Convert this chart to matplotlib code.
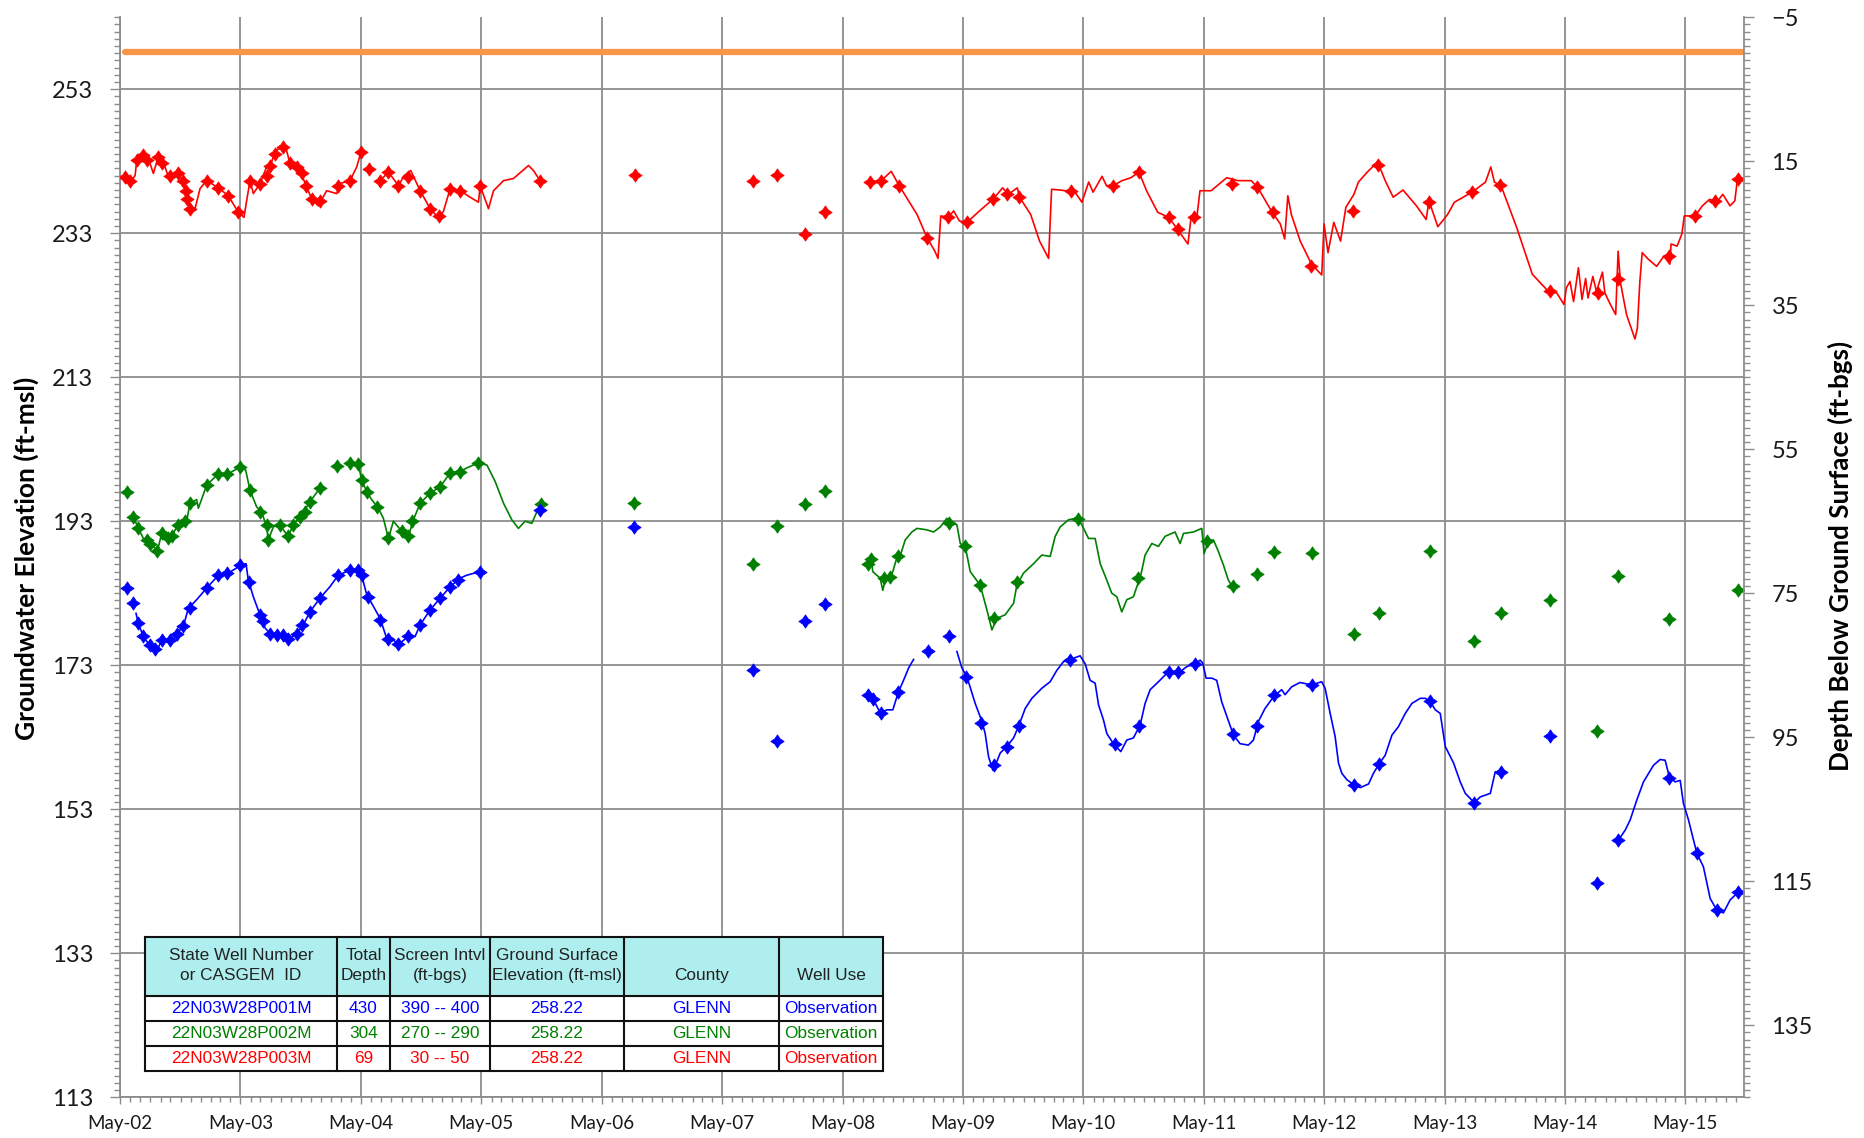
import numpy as np
import matplotlib
matplotlib.use('Agg')
import matplotlib.pyplot as plt
import matplotlib.dates as mdates
from matplotlib.ticker import MultipleLocator, FixedLocator
from matplotlib.path import Path
from matplotlib.patches import Rectangle
from datetime import datetime

plt.rcParams['font.family'] = ['Lato', 'DejaVu Sans']

# ---------------- data (decimal years, elevation ft-msl) ----------------
NA = np.nan
ground_surface_elev = 258.22
ground_surface_years = [2002.37, 2015.80]

# Well 22N03W28P003M (red) - continuous record, NaN = gap
red_line_years = [
    2002.371, 2002.426, 2002.454, 2002.468, 2002.523, 2002.564, 2002.606, 2002.647, 2002.689, 2002.731,
    2002.800, 2002.841, 2002.869, 2002.888, 2002.924, 2002.952, 2002.994, 2003.049, 2003.146, 2003.229,
    2003.312, 2003.359, 2003.381, 2003.409, 2003.437, 2003.492, 2003.547, 2003.589, 2003.616, 2003.680,
    2003.713, 2003.741, 2003.824, 2003.880, 2003.921, 2003.976, 2004.046, 2004.129, 2004.156, 2004.239,
    2004.295, 2004.331, 2004.410,
    2004.489, 2004.558, 2004.641, 2004.688, 2004.743, 2004.821, 2004.904, 2004.981, 2005.015, 2005.070,
    2005.153, 2005.236, 2005.305, 2005.319, 2005.388, 2005.430, 2005.513, 2005.596, 2005.721, 2005.762,
    2005.817, 2007.000,
    2008.540, 2008.651, 2008.733, 2008.799, 2008.947, 2009.029, 2009.095, 2009.121, 2009.144, 2009.206,
    2009.251, 2009.299, 2009.362, 2009.466, 2009.577, 2009.658, 2009.706, 2009.780, 2009.799, 2009.891,
    2009.965, 2010.040, 2010.065, 2010.132, 2010.225, 2010.243, 2010.317, 2010.373, 2010.410, 2010.484,
    2010.521, 2010.576, 2010.650, 2010.724, 2010.791, 2010.854, 2010.947, 2011.039, 2011.113, 2011.198,
    2011.224, 2011.272, 2011.298, 2011.391, 2011.520, 2011.613, 2011.724, 2011.780, 2011.891, 2011.965,
    2012.002, 2012.028, 2012.057, 2012.131, 2012.224, 2012.309, 2012.328, 2012.361, 2012.409, 2012.465,
    2012.509, 2012.576, 2012.613, 2012.687, 2012.772, 2012.835, 2012.901, 2012.983, 2013.094, 2013.175,
    2013.198, 2013.272, 2013.353, 2013.409, 2013.557, 2013.668, 2013.712, 2013.742, 2013.797, 2013.927,
    2014.057, 2014.186, 2014.260, 2014.320, 2014.340, 2014.370, 2014.400, 2014.440, 2014.470, 2014.500,
    2014.520, 2014.560, 2014.590, 2014.640, 2014.660, 2014.700, 2014.750, 2014.770, 2014.790, 2014.840,
    2014.910, 2014.930, 2014.950, 2014.970, 2015.020, 2015.090, 2015.150, 2015.200, 2015.210, 2015.260,
    2015.300, 2015.320, 2015.410, 2015.470, 2015.530, 2015.590, 2015.640, 2015.700, 2015.740, 2015.760,
    2015.780]
red_line_elev = [
    240.8, 240.3, 241.0, 243.1, 243.8, 243.4, 241.3, 243.6, 242.9, 240.8,
    241.3, 240.6, 239.2, 237.8, 236.1, 236.4, 239.2, 240.3, 239.3, 238.2,
    235.9, 235.2, 237.5, 240.3, 238.5, 239.9, 242.2, 242.9, 244.3, 245.2,
    244.5, 242.7, 241.7, 239.4, 237.8, 236.8, 238.9, 238.5, 239.9, 240.3,
    242.2, 244.3, NA,
    240.3, 241.5, 239.6, 241.0, 241.7, 238.9, 236.4, 235.0, 236.1, 239.2,
    238.9, 238.0, 237.3, 239.6, 236.4, 238.9, 240.3, 240.6, 242.4, 241.7,
    240.3, NA,
    240.1, 240.3, 241.6, 239.6, 235.6, 232.4, 230.5, 229.5, 235.4, 235.2,
    236.1, 234.7, 234.5, 236.1, 237.7, 239.3, 238.4, 239.3, 238.0, 235.6,
    231.9, 229.5, 239.1, 239.0, 238.8, 239.1, 237.3, 240.1, 238.7, 240.9,
    239.6, 239.6, 240.3, 240.7, 241.5, 238.9, 235.9, 235.2, 233.5, 231.5,
    235.2, 235.2, 238.9, 238.9, 240.7, 240.3, 240.3, 239.3, 236.1, 234.3,
    232.2, 238.2, 235.6, 231.9, 228.7, 227.2, 234.3, 230.3, 234.5, 231.9,
    236.6, 238.4, 240.1, 241.5, 242.9, 240.3, 238.0, 239.0, 236.8, 234.9,
    237.5, 233.9, 235.6, 237.3, 238.7, 240.1, 242.2, 240.1, 239.6, 233.8,
    227.3, 225.0, 224.7, 223.1, 225.4, 226.3, 223.5, 228.2, 223.8, 226.7,
    224.0, 227.0, 224.9, 227.6, 224.7, 223.3, 221.7, 230.5, 226.1, 221.7,
    218.3, 219.8, 226.1, 230.3, 229.4, 228.4, 229.8, 228.7, 231.5, 231.2,
    232.9, 235.4, 235.4, 236.8, 237.7, 237.3, 238.4, 236.8, 237.5, 240.3,
    240.5]
red_marker_years = [
    2002.371, 2002.412, 2002.468, 2002.523, 2002.551, 2002.647, 2002.675, 2002.744, 2002.814, 2002.855,
    2002.877, 2002.888, 2002.911, 2003.049, 2003.146, 2003.229, 2003.312, 2003.409, 2003.492, 2003.547,
    2003.575, 2003.616, 2003.680, 2003.741, 2003.796, 2003.838, 2003.874, 2003.921, 2003.990, 2004.142,
    2004.239, 2004.331, 2004.400, 2004.489, 2004.558, 2004.641, 2004.724, 2004.821, 2004.904, 2004.981,
    2005.070, 2005.153, 2005.314, 2005.817,
    2006.607, 2007.585, 2007.782, 2008.020, 2008.187,
    2008.559, 2008.651, 2008.799, 2009.029, 2009.206, 2009.362, 2009.577, 2009.695, 2009.791, 2010.225,
    2010.576, 2010.791, 2011.039, 2011.113, 2011.250, 2011.568, 2011.768, 2011.909, 2012.224, 2012.565,
    2012.772, 2013.198, 2013.557, 2013.786, 2014.206, 2014.607, 2014.773, 2015.197, 2015.410, 2015.576,
    2015.770]
red_marker_elev = [
    240.8, 240.3, 243.1, 243.8, 243.1, 243.6, 242.7, 241.0, 241.3, 240.3,
    238.9, 237.8, 236.4, 240.3, 239.3, 238.2, 235.9, 240.3, 239.9, 241.0,
    242.4, 244.0, 245.0, 242.7, 242.2, 241.3, 239.6, 237.8, 237.5, 239.6,
    240.3, 244.3, 241.9, 240.3, 241.5, 239.6, 240.8, 238.9, 236.4, 235.4,
    239.2, 238.8, 239.6, 240.3,
    241.1, 240.3, 241.1, 232.9, 236.0,
    240.1, 240.3, 239.6, 232.4, 235.2, 234.5, 237.7, 238.4, 238.0, 238.9,
    239.6, 241.5, 235.2, 233.6, 235.2, 239.8, 239.4, 235.9, 228.5, 236.1,
    242.5, 237.4, 238.7, 239.7, 225.0, 224.7, 226.6, 229.8, 235.4, 237.5,
    240.5]

# Well 22N03W28P002M (green)
green_line_years = [
    2002.440, 2002.481, 2002.523, 2002.564, 2002.606, 2002.639, 2002.675, 2002.717, 2002.758, 2002.800,
    2002.841, 2002.883, 2002.910, 2002.966, 2002.980, 2003.049, 2003.146, 2003.229, 2003.326, 2003.373,
    2003.409, 2003.464, 2003.506, 2003.547, 2003.561, 2003.603, 2003.658, 2003.686, 2003.727, 2003.769,
    2003.824, 2003.866, 2003.907, 2003.990, 2004.150,
    2004.309, 2004.336, 2004.378, 2004.419, 2004.475, 2004.516, 2004.558, 2004.599, 2004.668, 2004.724,
    2004.765, 2004.821, 2004.904, 2004.987, 2005.070, 2005.153, 2005.208, 2005.305, 2005.375, 2005.444,
    2005.513, 2005.582, 2005.637, 2005.693, 2005.748, 2005.790, 2007.000,
    2008.544, 2008.564, 2008.580, 2008.613, 2008.641, 2008.663, 2008.683, 2008.724, 2008.746, 2008.774,
    2008.813, 2008.849, 2008.904, 2008.946, 2009.029, 2009.084, 2009.140, 2009.195, 2009.236, 2009.278,
    2009.306, 2009.347, 2009.389, 2009.472, 2009.527, 2009.569, 2009.610, 2009.679, 2009.749, 2009.776,
    2009.832, 2009.915, 2009.984, 2010.053, 2010.095, 2010.136, 2010.206, 2010.275, 2010.316, 2010.372,
    2010.427, 2010.469, 2010.524, 2010.565, 2010.607, 2010.648, 2010.690, 2010.745, 2010.773, 2010.801,
    2010.842, 2010.898, 2010.953, 2011.008, 2011.091, 2011.133, 2011.161, 2011.244, 2011.313, 2011.332,
    2011.368, 2011.410, 2011.451, 2011.493, 2011.534, 2011.576]
green_line_elev = [
    193.6, 192.0, 190.6, 190.2, 189.5, 188.8, 191.3, 190.4, 190.9, 192.2,
    193.2, 193.0, 195.5, 196.0, 194.8, 198.0, 199.6, 199.6, 200.5, 200.1,
    197.3, 195.0, 194.3, 192.2, 190.4, 192.2, 192.7, 191.8, 190.9, 192.5,
    193.6, 194.6, 195.7, 197.6, NA,
    200.9, 198.7, 197.1, 196.0, 194.8, 193.4, 190.6, 193.0, 191.6, 190.9,
    193.2, 195.5, 196.9, 197.8, 199.7, 199.9, 200.4, 201.1, 200.8, 198.5,
    195.5, 193.2, 192.0, 193.0, 192.7, 194.3, NA,
    187.1, 188.3, 186.0, 185.5, 185.1, 183.4, 184.8, 185.1, 186.0, 187.6,
    188.5, 190.4, 191.5, 192.0, 191.8, 191.5, 192.2, 193.4, 192.7, 192.5,
    189.9, 189.5, 186.0, 184.1, 180.7, 177.9, 179.5, 180.0, 181.6, 184.1,
    185.8, 187.1, 188.3, 188.1, 190.9, 192.2, 193.2, 193.4, 192.5, 190.6,
    190.6, 187.1, 184.8, 183.0, 182.5, 180.4, 182.1, 182.5, 183.9, 185.1,
    188.3, 189.9, 189.5, 190.9, 191.5, 189.9, 191.3, 191.5, 192.0, 188.5,
    190.2, 190.4, 188.8, 186.9, 184.8, 183.7]
green_marker_years = [
    2002.390, 2002.440, 2002.481, 2002.551, 2002.578, 2002.639, 2002.675, 2002.731, 2002.758, 2002.814,
    2002.869, 2002.910, 2003.049, 2003.146, 2003.215, 2003.326, 2003.409, 2003.492, 2003.547, 2003.561,
    2003.658, 2003.727, 2003.769, 2003.824, 2003.866, 2003.907, 2003.990, 2004.134, 2004.239, 2004.309,
    2004.336, 2004.378, 2004.461, 2004.558, 2004.668, 2004.724, 2004.752, 2004.821, 2004.904, 2004.987,
    2005.070, 2005.153, 2005.305, 2005.823,
    2006.597, 2007.585, 2007.782, 2008.019, 2008.187,
    2008.544, 2008.564, 2008.669, 2008.724, 2008.793, 2009.209, 2009.347, 2009.472, 2009.583, 2009.776,
    2010.288, 2010.787, 2011.354, 2011.570, 2011.770, 2011.914,
    2012.232, 2012.575, 2012.785, 2013.206, 2013.574, 2013.796, 2014.206, 2014.593, 2014.773, 2015.197,
    2015.770]
green_marker_elev = [
    197.0, 193.6, 192.0, 190.4, 189.9, 188.8, 191.3, 190.6, 190.9, 192.5,
    193.0, 195.5, 198.0, 199.6, 199.6, 200.5, 197.3, 194.3, 192.5, 190.4,
    192.5, 190.9, 192.5, 193.6, 194.3, 195.7, 197.6, 200.7, 201.1, 200.9,
    198.7, 197.1, 195.0, 190.6, 191.6, 190.9, 193.0, 195.5, 196.9, 197.8,
    199.7, 199.9, 201.1, 195.4,
    195.5, 187.1, 192.4, 195.4, 197.2,
    187.1, 187.8, 185.1, 185.2, 188.1, 192.7, 189.5, 184.1, 179.5, 184.6,
    193.3, 185.1, 190.2, 184.0, 185.7, 188.7,
    188.6, 177.4, 180.3, 188.8, 176.4, 180.3, 182.1, 163.9, 185.4, 179.4,
    183.5]

# Well 22N03W28P001M (blue)
blue_line_years = [
    2002.462, 2002.481, 2002.523, 2002.564, 2002.606, 2002.639, 2002.675, 2002.717, 2002.758, 2002.800,
    2002.855, 2002.897, 2002.966, 2003.049, 2003.146, 2003.229, 2003.298, 2003.340, 2003.376, 2003.395,
    2003.437, 2003.492, 2003.533, 2003.575, 2003.630, 2003.686, 2003.741, 2003.797, 2003.852, 2003.907,
    2003.990, 2004.073, 2004.142, 2004.239, 2004.309, 2004.336, 2004.378, 2004.419, 2004.489, 2004.544,
    2004.599, 2004.641, 2004.724, 2004.779, 2004.821, 2004.904, 2004.987, 2005.070, 2005.153, 2005.208,
    2005.319, 2007.000,
    2008.544, 2008.586, 2008.641, 2008.697, 2008.746, 2008.793, 2008.835, 2008.877, 2008.918, 2009.100,
    2009.278, 2009.320, 2009.361, 2009.430, 2009.486, 2009.513, 2009.541, 2009.577, 2009.605, 2009.638,
    2009.693, 2009.749, 2009.790, 2009.846, 2009.901, 2009.984, 2010.053, 2010.109, 2010.164, 2010.219,
    2010.302, 2010.344, 2010.385, 2010.427, 2010.455, 2010.496, 2010.524, 2010.579, 2010.640, 2010.690,
    2010.745, 2010.801, 2010.842, 2010.884, 2010.953, 2011.036, 2011.119, 2011.188, 2011.258, 2011.299,
    2011.321, 2011.349, 2011.396, 2011.437, 2011.479, 2011.521, 2011.576, 2011.631, 2011.700, 2011.742,
    2011.784, 2011.839, 2011.913, 2011.977, 2012.005, 2012.060, 2012.129, 2012.185, 2012.232, 2012.309,
    2012.337, 2012.379, 2012.420, 2012.448, 2012.475, 2012.517, 2012.575, 2012.628, 2012.697, 2012.738,
    2012.785, 2012.835, 2012.891, 2012.946, 2013.001, 2013.057, 2013.126, 2013.168, 2013.206, 2013.251,
    2013.292, 2013.334, 2013.403, 2013.458, 2013.500, 2013.541, 2013.575, 2013.624, 2013.708, 2013.749,
    2013.796, 2014.400,
    2014.773, 2014.829, 2014.870, 2014.926, 2014.981, 2015.064, 2015.119, 2015.161, 2015.197, 2015.244,
    2015.286, 2015.313, 2015.355, 2015.424, 2015.479, 2015.535, 2015.590, 2015.645, 2015.701, 2015.770]
blue_line_elev = [
    180.2, 178.8, 177.0, 176.0, 175.4, 175.1, 176.5, 176.5, 176.3, 177.4,
    178.4, 180.9, 182.1, 183.7, 185.5, 185.8, 186.5, 186.9, 187.1, 184.8,
    182.5, 180.0, 178.2, 177.4, 177.2, 177.2, 176.7, 177.4, 178.6, 180.4,
    182.3, 183.9, 185.5, 186.2, 186.2, 185.5, 182.8, 181.6, 179.5, 176.7,
    176.5, 175.9, 177.0, 177.0, 178.6, 180.7, 182.3, 183.9, 185.1, 185.5,
    186.0, NA,
    168.9, 168.2, 166.4, 166.8, 166.8, 169.3, 170.9, 172.6, 173.8, NA,
    174.9, 172.6, 171.4, 167.7, 165.2, 163.5, 160.3, 158.4, 159.4, 160.8,
    161.7, 162.9, 164.5, 167.0, 168.4, 169.8, 170.7, 172.3, 173.5, 173.8,
    174.3, 173.2, 170.9, 170.5, 167.5, 165.4, 163.5, 162.1, 161.0, 162.6,
    162.9, 164.7, 167.7, 169.6, 170.7, 172.1, 171.9, 172.8, 173.2, 173.7,
    173.3, 171.2, 171.2, 170.9, 167.9, 165.9, 163.3, 162.1, 161.9, 162.6,
    165.2, 167.0, 168.7, 169.6, 168.9, 170.0, 170.6, 170.4, 170.3, 170.7,
    169.8, 166.3, 163.1, 159.4, 158.0, 157.1, 156.4, 156.0, 156.5, 158.0,
    159.3, 160.5, 163.3, 164.5, 166.3, 167.7, 168.4, 168.4, 168.0, 166.8,
    166.3, 161.7, 159.4, 156.8, 155.2, 154.5, 153.9, 154.7, 155.2, 158.2,
    158.1, NA,
    148.7, 150.1, 151.5, 154.3, 156.8, 159.1, 159.9, 159.8, 157.4, 156.8,
    157.0, 153.8, 151.5, 146.9, 145.0, 140.6, 139.0, 138.6, 140.4, 141.5]
blue_marker_years = [
    2002.390, 2002.440, 2002.481, 2002.523, 2002.578, 2002.620, 2002.675, 2002.744, 2002.800, 2002.855,
    2002.910, 2003.049, 2003.146, 2003.215, 2003.326, 2003.403, 2003.492, 2003.520, 2003.575, 2003.630,
    2003.686, 2003.727, 2003.797, 2003.838, 2003.907, 2003.990, 2004.142, 2004.239, 2004.309, 2004.336,
    2004.392, 2004.489, 2004.558, 2004.641, 2004.724, 2004.821, 2004.904, 2004.987, 2005.070, 2005.139,
    2005.319, 2005.817,
    2006.597, 2007.585, 2007.782, 2008.019, 2008.187,
    2008.544, 2008.586, 2008.647, 2008.793, 2009.034, 2009.209, 2009.355, 2009.480, 2009.583, 2009.693,
    2009.798, 2010.219, 2010.593, 2010.795, 2011.044, 2011.119, 2011.258, 2011.570, 2011.775, 2011.913,
    2012.232, 2012.575, 2012.785, 2013.206, 2013.575, 2013.796, 2014.206, 2014.593, 2014.773, 2015.197,
    2015.424, 2015.590, 2015.770]
blue_marker_elev = [
    183.7, 181.6, 178.8, 177.0, 175.8, 175.3, 176.5, 176.5, 177.4, 178.4,
    180.9, 183.7, 185.5, 185.8, 186.9, 184.6, 180.0, 179.1, 177.4, 177.2,
    177.2, 176.7, 177.4, 178.6, 180.4, 182.3, 185.5, 186.2, 186.2, 185.5,
    182.5, 179.3, 176.7, 175.9, 177.0, 178.6, 180.7, 182.3, 183.9, 184.8,
    186.0, 194.6,
    192.2, 172.3, 162.5, 179.2, 181.5,
    168.9, 168.3, 166.4, 169.3, 175.0, 177.0, 171.4, 165.0, 159.1, 161.6,
    164.6, 173.7, 162.1, 164.6, 172.0, 172.0, 173.2, 163.4, 164.6, 168.8,
    170.3, 156.4, 159.3, 168.0, 153.9, 158.1, 163.1, 142.8, 148.7, 157.4,
    146.9, 139.0, 141.5]

# axis settings
elev_ticks = [113, 133, 153, 173, 193, 213, 233, 253]
depth_ticks = [-5, 15, 35, 55, 75, 95, 115, 135]
x_start, x_end = datetime(2002, 5, 1), datetime(2015, 10, 25)

# table
table_header_1 = ['State Well Number', 'Total', 'Screen Intvl', 'Ground Surface', '', '']
table_header_2 = ['or CASGEM  ID', 'Depth', '(ft-bgs)', 'Elevation (ft-msl)', 'County', 'Well Use']
table_rows = [
    ['22N03W28P001M', '430', '390 -- 400', '258.22', 'GLENN', 'Observation'],
    ['22N03W28P002M', '304', '270 -- 290', '258.22', 'GLENN', 'Observation'],
    ['22N03W28P003M', '69', '30 -- 50', '258.22', 'GLENN', 'Observation'],
]
row_colors = ['#0000FF', '#008000', '#FF0000']


def to_date(y):
    yr = int(np.floor(y))
    a, b = datetime(yr, 1, 1), datetime(yr + 1, 1, 1)
    return a + (b - a) * (y - yr)


def dates(lst):
    return [to_date(v) for v in lst]


# ---------------- figure ----------------
W, H = 1864, 1138
fig = plt.figure(figsize=(W / 100, H / 100), dpi=100)
fig.patch.set_facecolor('white')
ax = fig.add_axes([120 / W, 1 - 1097.2 / H, (1743.7 - 120) / W, (1097.2 - 17.2) / H])

star = Path([(0, 1), (0.4, 0.4), (1, 0), (0.4, -0.4), (0, -1), (-0.4, -0.4),
             (-1, 0), (-0.4, 0.4), (0, 1)], closed=True)

ax.plot(dates(ground_surface_years), [ground_surface_elev] * 2, color='#F79646', lw=4.5,
        solid_capstyle='round', zorder=3)

for ly, le, my, me, c in [
        (red_line_years, red_line_elev, red_marker_years, red_marker_elev, '#FF0000'),
        (green_line_years, green_line_elev, green_marker_years, green_marker_elev, '#008000'),
        (blue_line_years, blue_line_elev, blue_marker_years, blue_marker_elev, '#0000FF')]:
    ax.plot(dates(ly), le, color=c, lw=1.2, zorder=4)
    ax.plot(dates(my), me, linestyle='none', marker=star, markersize=9.5, color=c,
            markeredgewidth=0.6, markeredgecolor=c, zorder=5)

gc = '#8C8C8C'
ax.set_xlim(x_start, x_end)
ax.set_ylim(113, 263)
ax.yaxis.set_major_locator(FixedLocator(elev_ticks))
ax.yaxis.set_minor_locator(MultipleLocator(1))
ax.xaxis.set_major_locator(mdates.MonthLocator(bymonth=5))
ax.xaxis.set_minor_locator(mdates.MonthLocator())
ax.xaxis.set_major_formatter(mdates.DateFormatter('%b-%y'))
ax.grid(True, which='major', color=gc, lw=1.3)
ax.set_axisbelow(True)
for s in ['top', 'right']:
    ax.spines[s].set_visible(False)
for s in ['left', 'bottom']:
    ax.spines[s].set_color(gc)
    ax.spines[s].set_linewidth(1.3)
ax.tick_params(axis='y', which='major', length=7, width=1, color=gc, labelsize=17,
               pad=12, labelcolor='#1a1a1a')
ax.tick_params(axis='y', which='minor', length=4.5, width=1, color=gc)
ax.tick_params(axis='x', which='major', length=5, width=1, color=gc, labelsize=13.5,
               pad=8, labelcolor='#1a1a1a')
ax.tick_params(axis='x', which='minor', length=3.5, width=1, color=gc)

ax2 = ax.twinx()
ax2.set_ylim(145, -5)
ax2.yaxis.set_major_locator(FixedLocator(depth_ticks))
ax2.yaxis.set_minor_locator(MultipleLocator(1))
for s in ['top', 'left', 'bottom']:
    ax2.spines[s].set_visible(False)
ax2.spines['right'].set_color(gc)
ax2.spines['right'].set_linewidth(1.3)
ax2.tick_params(axis='y', which='major', length=7, width=1, color=gc, labelsize=17,
                pad=13, labelcolor='#1a1a1a')
ax2.tick_params(axis='y', which='minor', length=4.5, width=1, color=gc)

tl = fig.text(26 / W, 1 - 558 / H, 'Groundwater Elevation (ft-msl)', rotation=90,
              ha='center', va='center', fontsize=16, fontweight='bold')
tr = fig.text(1840 / W, 1 - 556 / H, 'Depth Below Ground Surface (ft-bgs)', rotation=90,
              ha='center', va='center', fontsize=16, fontweight='bold')

# ---------------- table ----------------
tax = fig.add_axes([0, 0, 1, 1], zorder=10)
tax.set_xlim(0, W)
tax.set_ylim(H, 0)
tax.axis('off')
tax.patch.set_alpha(0)
col_edges = [145.3, 336.7, 390.2, 489.7, 624.4, 778.7, 883.3]
row_edges = [936.7, 995.7, 1021.0, 1045.7, 1070.7]
tax.add_patch(Rectangle((col_edges[0], row_edges[0]), col_edges[-1] - col_edges[0],
                        row_edges[1] - row_edges[0], facecolor='#AFEEEE', edgecolor='none'))
tax.add_patch(Rectangle((col_edges[0], row_edges[1]), col_edges[-1] - col_edges[0],
                        row_edges[-1] - row_edges[1], facecolor='white', edgecolor='none'))
for xe in col_edges:
    tax.plot([xe, xe], [row_edges[0], row_edges[-1]], color='#111111', lw=1.5)
for ye in row_edges:
    tax.plot([col_edges[0], col_edges[-1]], [ye, ye], color='#111111', lw=1.5)
tfont = dict(family=['Liberation Sans', 'DejaVu Sans'], fontsize=12.4, ha='center', va='center')
for i in range(6):
    cx = (col_edges[i] + col_edges[i + 1]) / 2
    if table_header_1[i]:
        tax.text(cx, 955, table_header_1[i], color='#222222', **tfont)
    tax.text(cx, 975.5, table_header_2[i], color='#222222', **tfont)
    for r in range(3):
        cy = (row_edges[r + 1] + row_edges[r + 2]) / 2
        tax.text(cx, cy, table_rows[r][i], color=row_colors[r], **tfont)

# fit the bold axis titles to the reference lengths
fig.canvas.draw()
rend = fig.canvas.get_renderer()
for t, target in [(tl, 364), (tr, 430)]:
    ext = t.get_window_extent(rend)
    t.set_fontsize(t.get_fontsize() * target / ext.height)

fig.savefig('out.png', dpi=100, facecolor='white')
